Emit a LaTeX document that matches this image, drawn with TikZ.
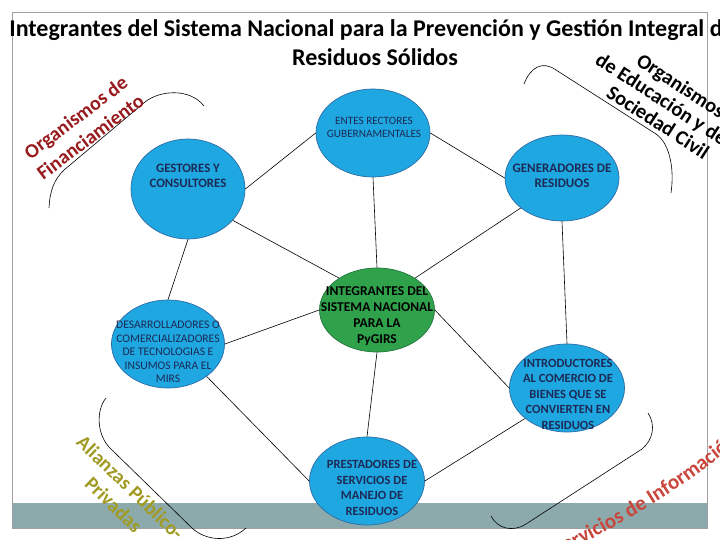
\documentclass[tikz,border=0pt]{standalone}
\usepackage{fontspec}
\setmainfont{Carlito}
\usetikzlibrary{shapes.geometric,decorations.text}
\definecolor{blobblue}{HTML}{1EA7E1}
\definecolor{blobedge}{HTML}{2E6CA4}
\definecolor{blobgreen}{HTML}{31A24C}
\definecolor{greenedge}{HTML}{23753A}
\definecolor{navytext}{HTML}{1C2A55}
\definecolor{finred}{HTML}{981B1E}
\definecolor{olivetxt}{HTML}{A19B24}
\definecolor{infored}{HTML}{C8463C}
\definecolor{barcol}{HTML}{8CAAAB}
\definecolor{framecol}{HTML}{A0A0A0}
\begin{document}
\begin{tikzpicture}[x=1pt,y=-1pt,
  blob/.style={ellipse, draw=blobedge, line width=0.7pt, fill=blobblue, inner sep=0pt},
  greenblob/.style={ellipse, draw=greenedge, line width=0.7pt, fill=blobgreen, inner sep=0pt},
  btxt/.style={align=center, inner sep=0pt, text=navytext, font=\fontsize{12.5}{15.5}\selectfont\bfseries},
  btxtreg/.style={align=center, inner sep=0pt, text=navytext},
  conn/.style={draw=black, line width=0.6pt},
  bracket/.style={draw=black, line width=0.6pt},
  arctxt/.style={align=center, inner sep=0pt, font=\fontsize{20}{24}\selectfont\bfseries},
  edutxt/.style={anchor=base west, inner sep=0pt, rotate=-33, text=black, font=\fontsize{20.5}{24}\selectfont\bfseries},
  titletxt/.style={anchor=base, inner sep=0pt, font=\fontsize{24}{29}\selectfont\bfseries}
]
\useasboundingbox (0,0) rectangle (720,540);
\clip (0,0) rectangle (720,540);
\fill[white] (0,0) rectangle (720,540);
% slide frame and bottom bar
\fill[barcol] (12,503) rectangle (707,528);
\draw[framecol, line width=0.8pt] (12,528) -- (12,12) -- (707,12) -- (707,528) -- cycle;
% title
\node[titletxt] (title1) at (372,37) {Integrantes del Sistema Nacional para la Prevención y Gestión Integral de};
\node[titletxt] (title2) at (375,66) {Residuos Sólidos};
% corner brackets
\draw[bracket] (49,208) .. controls (50,190) and (54,180) .. (64,170) -- (145,102) .. controls (160,90) and (190,88) .. (204,106);
\draw[bracket] (524,84) .. controls (530,68) and (542,60) .. (556,70) -- (656,134) .. controls (668,142) and (675,165) .. (671,193);
\draw[bracket] (106,398) .. controls (96,410) and (96,436) .. (112,450) -- (192,528) .. controls (206,541) and (230,543) .. (246,528);
\draw[bracket] (648,413) .. controls (656,425) and (653,440) .. (642,449) -- (526,524) .. controls (512,533) and (497,528) .. (491,516);
% corner texts
\node[arctxt, text=finred, rotate=37] (finT) at (83,127) {Organismos de\\Financiamiento};
\node[edutxt] (eduT1) at (635,64) {Organismos};
\node[edutxt] (eduT2) at (594,63) {de Educación y de};
\node[edutxt] (eduT3) at (605,96) {Sociedad Civil};
\node[arctxt, text=olivetxt, rotate=-44] (apT) at (122,496) {Alianzas Público-\\Privadas};
\path[decorate, decoration={text along path, text align=center, text color=infored,
  text={|\fontsize{21}{21}\selectfont\bfseries|Servicios de Información}}]
  (545,562) .. controls (617,528) and (689,487) .. (748,433);
% ellipses
\node[blob, minimum width=114pt, minimum height=88pt] (entes) at (373,133) {};
\node[blob, minimum width=114pt, minimum height=100pt] (gest) at (188,189) {};
\node[blob, minimum width=114pt, minimum height=86pt] (gener) at (562,178) {};
\node[blob, minimum width=113pt, minimum height=88pt] (desa) at (168,344) {};
\node[greenblob, minimum width=115pt, minimum height=84pt] (central) at (377,310) {};
\node[blob, minimum width=115pt, minimum height=88pt] (intro) at (567,388) {};
\node[blob, minimum width=115pt, minimum height=88pt] (prest) at (367,481) {};
% connectors
\draw[conn] (entes.west) -- (gest.east);
\draw[conn] (entes.east) -- (gener.west);
\draw[conn] (entes.south) -- (central.north);
\draw[conn] (gest.south) -- (desa.north);
\draw[conn] (gest.-35) -- (central.140);
\draw[conn] (gener.216) -- (central.40);
\draw[conn] (gener.south) -- (intro.north);
\draw[conn] (desa.east) -- (central.west);
\draw[conn] (desa.-40) -- (prest.west);
\draw[conn] (intro.west) -- (central.east);
\draw[conn] (intro.216) -- (prest.east);
\draw[conn] (central.south) -- (prest.north);
% texts
\node[btxtreg, font=\fontsize{11.2}{13}\selectfont] (entesT) at (374,127) {ENTES RECTORES\\GUBERNAMENTALES};
\node[btxt, font=\fontsize{12.8}{15}\selectfont\bfseries] (gestT) at (188,176) {GESTORES Y\\CONSULTORES};
\node[btxt, font=\fontsize{13}{15.5}\selectfont\bfseries] (generT) at (562,176) {GENERADORES DE\\RESIDUOS};
\node[btxtreg, font=\fontsize{11.6}{13.5}\selectfont] (desaT) at (168,352) {DESARROLLADORES O\\COMERCIALIZADORES\\DE TECNOLOGIAS E\\INSUMOS PARA EL\\MIRS};
\node[btxt, text=black, font=\fontsize{13.5}{16}\selectfont\bfseries] (centralT) at (377,316) {INTEGRANTES DEL\\SISTEMA NACIONAL\\PARA LA\\PyGIRS};
\node[btxt] (introT) at (568,394) {INTRODUCTORES\\AL COMERCIO DE\\BIENES QUE SE\\CONVIERTEN EN\\RESIDUOS};
\node[btxt] (prestT) at (372,488) {PRESTADORES DE\\SERVICIOS DE\\MANEJO DE\\RESIDUOS};
\end{tikzpicture}
\end{document}
